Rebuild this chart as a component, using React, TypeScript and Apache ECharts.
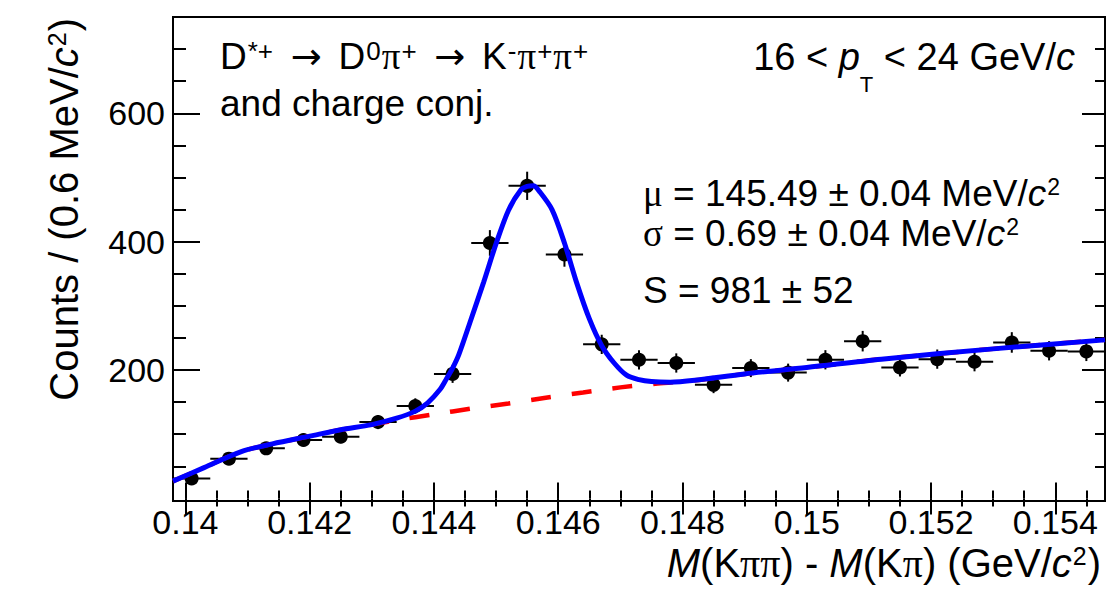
import React, { useEffect, useRef } from "react";
import * as echarts from "echarts";

const xMin = 0.1398;
const xMax = 0.1548;
const yMin = -4;
const yMax = 750;

const xMajorTicks = [0.14, 0.142, 0.144, 0.146, 0.148, 0.15, 0.152, 0.154];
const xMinorTicks = Array.from({ length: 30 }, (_, k) => Number((0.14 + k * 0.0005).toFixed(4)));
const yMajorTicks = [200, 400, 600];
const yMinorTicks = [50, 100, 150, 250, 300, 350, 450, 500, 550, 650, 700, 750];

const binCenters = [
  0.1401, 0.1407, 0.1413, 0.1419, 0.1425, 0.1431, 0.1437, 0.1443, 0.1449, 0.1455,
  0.1461, 0.1467, 0.1473, 0.1479, 0.1485, 0.1491, 0.1497, 0.1503, 0.1509, 0.1515,
  0.1521, 0.1527, 0.1533, 0.1539, 0.1545,
];
const binHalfWidth = 0.0003;
const counts = [31, 62, 78, 91, 96, 119, 144, 194, 398, 487, 380, 240, 216, 211, 177, 203, 196, 216, 245, 204, 217, 213, 243, 230, 229];
const countErrors = [6, 8, 9, 10, 10, 11, 12, 14, 20, 22, 19, 15, 15, 15, 13, 14, 14, 15, 16, 14, 15, 15, 16, 15, 15];

const fitX = [
  0.1398, 0.1403, 0.1409, 0.1414, 0.142, 0.1425, 0.143, 0.1434, 0.1437, 0.1439,
  0.1441, 0.1442, 0.1443, 0.1444, 0.1446, 0.1448, 0.145, 0.1452, 0.1454, 0.1455,
  0.1456, 0.1457, 0.1459, 0.1461, 0.1463, 0.1465, 0.1467, 0.1469, 0.1471, 0.1473,
  0.1475, 0.1478, 0.1482, 0.149, 0.15, 0.1512, 0.153, 0.1548,
];
const fitY = [
  27, 48, 73, 85, 97, 107, 115, 125, 136, 149,
  170, 186, 203, 224, 280, 337, 397, 449, 481, 486,
  487, 478, 450, 398, 335, 280, 238, 211, 192, 185,
  182, 181, 184, 194, 204, 217, 233, 247,
];

const bgX = [
  0.1398, 0.1403, 0.1409, 0.1414, 0.142, 0.1425, 0.143, 0.1434, 0.144, 0.1446,
  0.1452, 0.1458, 0.1464, 0.147, 0.1476, 0.1482, 0.149, 0.15, 0.1512, 0.153, 0.1548,
];
const bgY = [27, 48, 73, 85, 97, 107, 115, 122, 131, 140, 148, 157, 165, 173, 179, 184, 194, 204, 217, 233, 247];

const SANS = "Liberation Sans";
const SERIF = "Liberation Serif";

function richSet(size: number, lh: number, supSize: number, subPad: number) {
  return {
    n: { fontSize: size, fontFamily: SANS, fill: "#000", lineHeight: lh, verticalAlign: "top" },
    i: { fontSize: size, fontFamily: SANS, fontStyle: "italic", fill: "#000", lineHeight: lh, verticalAlign: "top" },
    g: { fontSize: size, fontFamily: SERIF, fill: "#000", lineHeight: lh, verticalAlign: "top" },
    a: { fontSize: size, fontFamily: "DejaVu Sans", fill: "#000", lineHeight: lh, verticalAlign: "top", padding: [0, 5, 0, 5] },
    sup: { fontSize: supSize, fontFamily: SANS, fill: "#000", lineHeight: supSize, verticalAlign: "top", padding: [0, 1, 0, 1] },
    sub: { fontSize: supSize, fontFamily: SANS, fill: "#000", lineHeight: supSize, verticalAlign: "top", padding: [subPad, 0, 0, 0] },
  };
}

function axisCommon() {
  return {
    type: "value" as const,
    splitLine: { show: false },
    axisLine: { show: false },
  };
}

export default function App() {
  const ref = useRef<HTMLDivElement>(null);

  useEffect(() => {
    if (!ref.current) return;
    const chart = echarts.init(ref.current, undefined, { renderer: "svg" });

    const tickStyle = { color: "#000", width: 2 };
    const xAxisBase = { ...axisCommon(), min: xMin, max: xMax };
    const yAxisBase = { ...axisCommon(), min: yMin, max: yMax };

    const option: any = {
      animation: false,
      backgroundColor: "#fff",
      grid: {
        left: 173,
        top: 17,
        width: 932,
        height: 484,
        show: true,
        borderColor: "#000",
        borderWidth: 2,
        backgroundColor: "transparent",
      },
      xAxis: [
        {
          ...xAxisBase,
          position: "bottom",
          axisTick: { show: true, inside: true, length: 16, customValues: xMajorTicks, lineStyle: tickStyle },
          axisLabel: {
            show: true,
            customValues: xMajorTicks,
            formatter: (v: number) => String(v),
            fontSize: 34,
            fontFamily: SANS,
            color: "#000",
            margin: 4,
          },
        },
        {
          ...xAxisBase,
          position: "bottom",
          axisTick: { show: true, inside: true, length: 8, customValues: xMinorTicks, lineStyle: tickStyle },
          axisLabel: { show: false },
        },
        {
          ...xAxisBase,
          position: "top",
          axisTick: { show: true, inside: true, length: 16, customValues: xMajorTicks, lineStyle: tickStyle },
          axisLabel: { show: false },
        },
        {
          ...xAxisBase,
          position: "top",
          axisTick: { show: true, inside: true, length: 8, customValues: xMinorTicks, lineStyle: tickStyle },
          axisLabel: { show: false },
        },
      ],
      yAxis: [
        {
          ...yAxisBase,
          position: "left",
          axisTick: { show: true, inside: true, length: 27, customValues: yMajorTicks, lineStyle: tickStyle },
          axisLabel: {
            show: true,
            customValues: yMajorTicks,
            fontSize: 34,
            fontFamily: SANS,
            color: "#000",
            margin: 8,
          },
        },
        {
          ...yAxisBase,
          position: "left",
          axisTick: { show: true, inside: true, length: 13, customValues: yMinorTicks, lineStyle: tickStyle },
          axisLabel: { show: false },
        },
        {
          ...yAxisBase,
          position: "right",
          axisTick: { show: true, inside: true, length: 23, customValues: yMajorTicks, lineStyle: tickStyle },
          axisLabel: { show: false },
        },
        {
          ...yAxisBase,
          position: "right",
          axisTick: { show: true, inside: true, length: 10, customValues: yMinorTicks, lineStyle: tickStyle },
          axisLabel: { show: false },
        },
      ],
      series: [
        {
          type: "custom",
          name: "errors",
          xAxisIndex: 0,
          yAxisIndex: 0,
          silent: true,
          data: binCenters.map((x, i) => [x, counts[i], countErrors[i]]),
          encode: { x: 0, y: 1 },
          renderItem: (_params: any, api: any) => {
            const x = api.value(0);
            const y = api.value(1);
            const e = api.value(2);
            const pL = api.coord([x - binHalfWidth, y]);
            const pR = api.coord([x + binHalfWidth, y]);
            const pT = api.coord([x, y + e]);
            const pB = api.coord([x, y - e]);
            return {
              type: "group",
              children: [
                { type: "line", shape: { x1: pL[0], y1: pL[1], x2: pR[0], y2: pR[1] }, style: { stroke: "#000", lineWidth: 2 } },
                { type: "line", shape: { x1: pT[0], y1: pT[1], x2: pB[0], y2: pB[1] }, style: { stroke: "#000", lineWidth: 2 } },
              ],
            };
          },
        },
        {
          type: "scatter",
          name: "data",
          xAxisIndex: 0,
          yAxisIndex: 0,
          symbol: "circle",
          symbolSize: 14,
          itemStyle: { color: "#000", opacity: 1 },
          data: binCenters.map((x, i) => [x, counts[i]]),
        },
        {
          type: "line",
          name: "background",
          xAxisIndex: 0,
          yAxisIndex: 0,
          showSymbol: false,
          smooth: 0.3,
          lineStyle: { color: "#ff0000", width: 4.5, type: [20, 21] },
          data: bgX.map((x, i) => [x, bgY[i]]),
        },
        {
          type: "line",
          name: "total fit",
          xAxisIndex: 0,
          yAxisIndex: 0,
          showSymbol: false,
          smooth: 0.3,
          lineStyle: { color: "#0000ff", width: 5 },
          data: fitX.map((x, i) => [x, fitY[i]]),
        },
      ],
      graphic: [
        {
          type: "text",
          x: 220,
          y: 38,
          style: {
            text: "{n|D}{sup|*+}{a| → }{n|D}{sup|0}{g|π}{sup|+}{a| → }{n|K}{sup|-}{g|π}{sup|+}{g|π}{sup|+}",
            rich: richSet(37, 44, 26, 0),
            align: "left",
            verticalAlign: "top",
          },
        },
        {
          type: "text",
          x: 220,
          y: 85,
          style: {
            text: "{n|and charge conj.}",
            rich: richSet(37, 44, 24, 0),
            align: "left",
            verticalAlign: "top",
          },
        },
        {
          type: "text",
          x: 1075,
          y: 38,
          style: {
            text: "{n|16 < }{i|p}{sub|T}{n| < 24 GeV/}{i|c}",
            rich: richSet(38, 44, 22, 35),
            align: "right",
            verticalAlign: "top",
          },
        },
        {
          type: "text",
          x: 643,
          y: 175,
          style: {
            text: "{g|μ}{n| = 145.49 ± 0.04 MeV/}{i|c}{sup|2}",
            rich: richSet(37, 42, 23, 0),
            align: "left",
            verticalAlign: "top",
          },
        },
        {
          type: "text",
          x: 643,
          y: 215,
          style: {
            text: "{g|σ}{n| = 0.69 ± 0.04 MeV/}{i|c}{sup|2}",
            rich: richSet(37, 42, 23, 0),
            align: "left",
            verticalAlign: "top",
          },
        },
        {
          type: "text",
          x: 643,
          y: 272,
          style: {
            text: "{n|S = 981 ± 52}",
            rich: richSet(37, 42, 23, 0),
            align: "left",
            verticalAlign: "top",
          },
        },
        {
          type: "text",
          x: 67,
          y: 18,
          rotation: Math.PI / 2,
          style: {
            text: "{n|Counts / (0.6 MeV/}{i|c}{sup|2}{n|)}",
            rich: richSet(40, 46, 25, 0),
            align: "right",
            verticalAlign: "middle",
          },
        },
        {
          type: "text",
          x: 1101,
          y: 566,
          style: {
            text: "{i|M}{n|(K}{g|ππ}{n|) - }{i|M}{n|(K}{g|π}{n|) (GeV/}{i|c}{sup|2}{n|)}",
            rich: richSet(40, 46, 25, 0),
            align: "right",
            verticalAlign: "middle",
          },
        },
      ],
    };

    chart.setOption(option);
    return () => {
      chart.dispose();
    };
  }, []);

  return (
    <div
      ref={ref}
      style={{ position: "fixed", left: 0, top: 0, width: "1112px", height: "594px" }}
    />
  );
}
